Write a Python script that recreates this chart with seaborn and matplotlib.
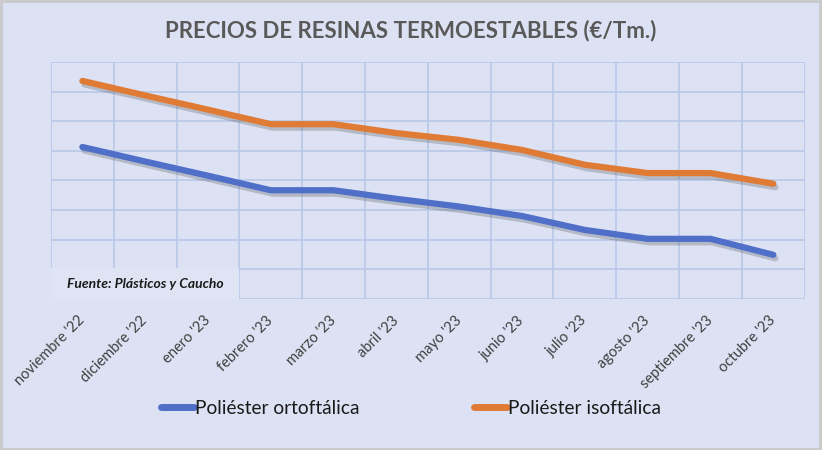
import matplotlib
matplotlib.use("Agg")
import matplotlib.pyplot as plt
import matplotlib.patheffects as pe
from matplotlib.patches import Rectangle
import pandas as pd
import seaborn as sns

meses = ["noviembre '22", "diciembre '22", "enero '23", "febrero '23", "marzo '23", "abril '23",
         "mayo '23", "junio '23", "julio '23", "agosto '23", "septiembre '23", "octubre '23"]
ortoftalica = [5.13, 4.64, 4.16, 3.67, 3.67, 3.38, 3.12, 2.80, 2.33, 2.03, 2.03, 1.49]
isoftalica = [7.36, 6.87, 6.39, 5.90, 5.90, 5.60, 5.37, 5.03, 4.53, 4.25, 4.25, 3.89]
series = ["Poliéster ortoftálica", "Poliéster isoftálica"]
colores = ["#4f6fc8", "#e07b35"]

df = pd.DataFrame({
    "mes": meses * 2,
    "valor": ortoftalica + isoftalica,
    "serie": [series[0]] * len(meses) + [series[1]] * len(meses),
})

bg = "#dce2f3"
grid = "#b5c6e8"

sns.set_style("white")
plt.rcParams["font.family"] = ["Lato", "DejaVu Sans"]

fig = plt.figure(figsize=(8.22, 4.5), dpi=100, facecolor=bg)
ax = fig.add_axes([0.062, 0.3356, 0.917, 0.5267])
ax.set_facecolor(bg)

sns.lineplot(data=df, x="mes", y="valor", hue="serie", palette=colores, sort=False,
             linewidth=4.5, ax=ax, legend=False)

for line in ax.get_lines():
    line.set_solid_capstyle("round")
    line.set_solid_joinstyle("round")
    line.set_path_effects([pe.SimpleLineShadow(offset=(1.5, -2.5), shadow_color="#404040", alpha=0.25),
                           pe.Normal()])

ax.set_xlim(-0.5, len(meses) - 0.5)
ax.set_ylim(0, 8)
ax.set_yticks(range(0, 9))
ax.set_xticks(range(len(meses)))
ax.set_xticks([i - 0.5 for i in range(len(meses) + 1)], minor=True)
ax.grid(False)
ax.grid(True, axis="y", which="major", color=grid, linewidth=1.1)
ax.grid(True, axis="x", which="minor", color=grid, linewidth=1.1)
ax.set_axisbelow(True)
ax.tick_params(axis="both", which="both", length=0)
ax.set_yticklabels([])
ax.set_xticklabels(meses, rotation=45, ha="right", va="center", rotation_mode="anchor",
                   fontsize=10.5, color="#404040")
ax.tick_params(axis="x", pad=14)
for s in ax.spines.values():
    s.set_visible(False)
ax.set_xlabel("")
ax.set_ylabel("")

# recuadro de la fuente
ax.text(0.021, 0.065, "Fuente: Plásticos y Caucho", transform=ax.transAxes,
        fontsize=10, fontweight="bold", fontstyle="italic", color="#1a1a1a", va="center", ha="left",
        zorder=5)
ax.add_patch(Rectangle((0.0, 0.0), 0.25, 0.13, transform=ax.transAxes, facecolor="#dfe4f4",
                       edgecolor="none", zorder=4))

fig.text(0.5, 0.933, "PRECIOS DE RESINAS TERMOESTABLES (€/Tm.)", ha="center", va="center",
         fontsize=16, fontweight="bold", color="#595959")

handles = [plt.Line2D([], [], color=c, linewidth=5, solid_capstyle="round") for c in colores]
fig.legend(handles, series, loc="center", bbox_to_anchor=(0.5, 0.093), ncol=2, frameon=False,
           fontsize=13.8, handlelength=1.7, handletextpad=0.05, columnspacing=6.0,
           labelcolor="#1a1a1a")

fig.add_artist(Rectangle((0.001, 0.002), 0.997, 0.996, transform=fig.transFigure, fill=False,
                         edgecolor="#c9c9c9", linewidth=2))

fig.savefig("out.png", dpi=100, facecolor=bg)
